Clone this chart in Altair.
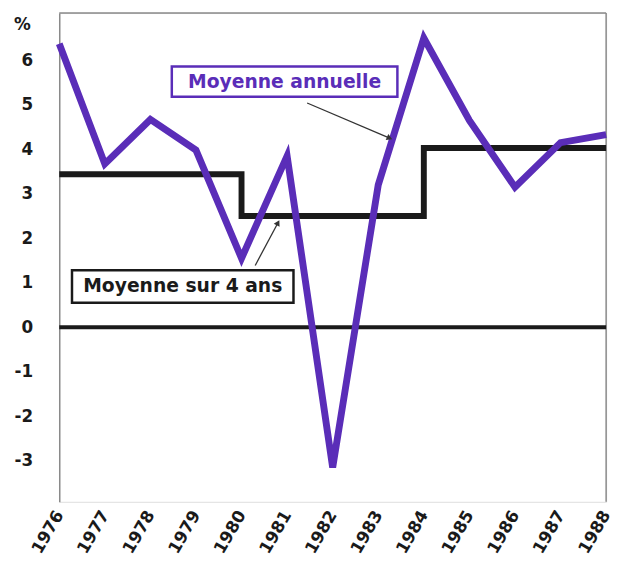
import altair as alt
import pandas as pd

# ---- data ----
years = [1976, 1977, 1978, 1979, 1980, 1981, 1982, 1983, 1984, 1985, 1986, 1987, 1988]
annual = [6.37, 3.67, 4.67, 3.98, 1.55, 3.85, -3.15, 3.2, 6.5, 4.65, 3.15, 4.15, 4.33]

avg_years = [1976, 1980, 1984, 1988]
avg_values = [3.44, 2.5, 4.03, 4.03]

y_ticks = [-3, -2, -1, 0, 1, 2, 3, 4, 5, 6]

# annotation boxes (data coordinates)
box_labels = ["Moyenne annuelle", "Moyenne sur 4 ans"]
box_x1 = [1978.47, 1976.28]
box_x2 = [1983.42, 1981.14]
box_y1 = [5.86, 1.28]
box_y2 = [5.18, 0.55]
box_colors = ["#5a2db8", "#1a1a1a"]

# arrows (start -> end, data coordinates)
arr_x1 = [1981.44, 1980.30]
arr_y1 = [5.04, 1.39]
arr_x2 = [1983.25, 1980.80]
arr_y2 = [4.25, 2.35]
arr_angle = [113, 28]

PURPLE = "#5a2db8"
W, H = 555, 496
FONT = "DejaVu Sans"

df = pd.DataFrame({"year": years, "value": annual})
df_avg = pd.DataFrame({"year": avg_years, "value": avg_values})
df_zero = pd.DataFrame({"x1": [1976], "x2": [1988], "y": [0]})
df_box = pd.DataFrame({
    "label": box_labels, "x1": box_x1, "x2": box_x2, "y1": box_y1, "y2": box_y2,
    "color": box_colors,
    "xc": [(a + b) / 2 for a, b in zip(box_x1, box_x2)],
    "yc": [(a + b) / 2 for a, b in zip(box_y1, box_y2)],
})
df_arr = pd.DataFrame({"x1": arr_x1, "y1": arr_y1, "x2": arr_x2, "y2": arr_y2, "angle": arr_angle})

xscale = alt.Scale(domain=[1976, 1988], nice=False, zero=False)
yscale = alt.Scale(domain=[-3.92, 7.06], nice=False, zero=False)

x_axis = alt.Axis(values=years, format="d", labelAngle=-60, labelFont=FONT,
                  labelFontWeight="bold", labelFontSize=17, labelColor="#1a1a1a",
                  ticks=False, tickSize=0, domain=False, grid=False, labelPadding=10,
                  title=None, labelAlign="right", labelBaseline="middle")
y_axis = alt.Axis(values=y_ticks, labelExpr="'' + datum.value", labelFont=FONT,
                  labelFontWeight="bold",
                  labelFontSize=17, labelColor="#1a1a1a", ticks=False, tickSize=0,
                  domain=True, domainColor="#8a8a8a", domainWidth=1.5, grid=False,
                  labelPadding=27, title="%", titleAngle=0, titleX=-38, titleY=12,
                  titleFont=FONT, titleFontSize=17, titleFontWeight="bold",
                  titleColor="#1a1a1a", titleAlign="center", titleBaseline="middle")

base_x = alt.X("year:Q", scale=xscale, axis=x_axis)
base_y = alt.Y("value:Q", scale=yscale, axis=y_axis)

frame_top = alt.Chart(pd.DataFrame({"a": [0]})).mark_rule(color="#8a8a8a", strokeWidth=1.5).encode(
    x=alt.value(0), x2=alt.value(W), y=alt.value(0))
frame_right = alt.Chart(pd.DataFrame({"a": [0]})).mark_rule(color="#8a8a8a", strokeWidth=1.5).encode(
    x=alt.value(W), y=alt.value(0), y2=alt.value(H))

zero = alt.Chart(df_zero).mark_rule(color="#1a1a1a", strokeWidth=4).encode(
    x=alt.X("x1:Q", scale=xscale, axis=x_axis), x2="x2:Q",
    y=alt.Y("y:Q", scale=yscale, axis=y_axis))

avg_line = alt.Chart(df_avg).mark_line(color="#1a1a1a", strokeWidth=6,
                                       interpolate="step-after", strokeJoin="miter").encode(
    x=base_x, y=base_y)

ann_line = alt.Chart(df).mark_line(color=PURPLE, strokeWidth=7, strokeJoin="miter",
                                   strokeMiterLimit=4).encode(x=base_x, y=base_y)

boxes = alt.Chart(df_box).mark_rect(fill="white", strokeWidth=2.5).encode(
    x=alt.X("x1:Q", scale=xscale, axis=x_axis), x2="x2:Q",
    y=alt.Y("y1:Q", scale=yscale, axis=y_axis), y2="y2:Q",
    stroke=alt.Color("color:N", scale=None))

box_text = alt.Chart(df_box).mark_text(font=FONT, fontWeight="bold", fontSize=19,
                                       align="center", baseline="middle").encode(
    x=alt.X("xc:Q", scale=xscale, axis=x_axis),
    y=alt.Y("yc:Q", scale=yscale, axis=y_axis),
    text="label:N", color=alt.Color("color:N", scale=None))

arrows = alt.Chart(df_arr).mark_rule(color="#333333", strokeWidth=1.3).encode(
    x=alt.X("x1:Q", scale=xscale, axis=x_axis), x2="x2:Q",
    y=alt.Y("y1:Q", scale=yscale, axis=y_axis), y2="y2:Q")

heads = alt.Chart(df_arr).mark_point(shape="triangle-up", filled=True, color="#333333",
                                     size=45, opacity=1).encode(
    x=alt.X("x2:Q", scale=xscale, axis=x_axis),
    y=alt.Y("y2:Q", scale=yscale, axis=y_axis),
    angle=alt.Angle("angle:Q", scale=None))

chart = alt.layer(frame_top, frame_right, zero, avg_line, ann_line, arrows, heads,
                  boxes, box_text).properties(
    width=W, height=H,
    autosize=alt.AutoSizeParams(type="none"),
    padding={"left": 52, "top": 1, "right": 8, "bottom": 60},
).configure_view(stroke=None).configure(background="white")

chart.save("out.html", embed_options={"renderer": "svg", "actions": False})
